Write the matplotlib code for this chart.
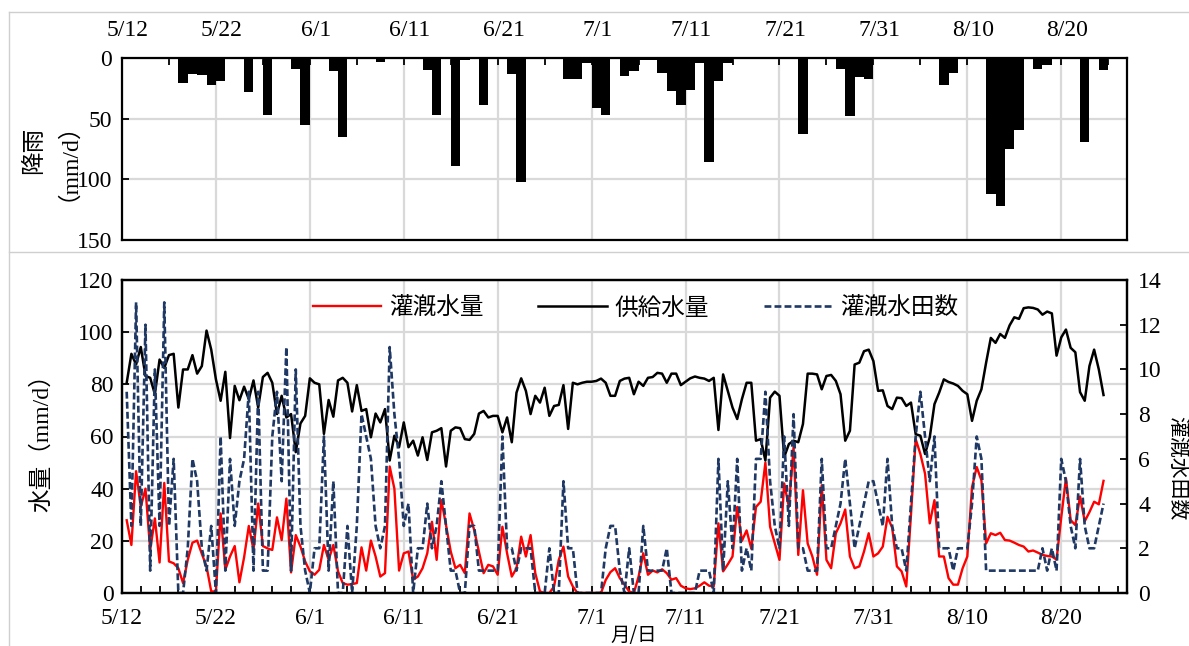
import datetime
import numpy as np
import matplotlib.pyplot as plt
import matplotlib.transforms as mtransforms
from matplotlib.lines import Line2D

# daily rainfall (mm/d) from 5/12
rain = [0, 0, 0, 0, 0, 0, 21, 13, 14, 22, 19, 0, 0, 28, 0, 47, 0, 0, 9, 55,
        0, 0, 11, 65, 0, 0, 0, 3, 0, 0, 0, 0, 10, 47, 0, 89, 2, 0, 39, 0,
        0, 13, 102, 0, 0, 0, 0, 17, 17, 4, 41, 47, 0, 15, 11, 2, 2, 12, 27, 39,
        26, 4, 86, 19, 4, 0, 0, 0, 0, 0, 0, 0, 63, 0, 0, 0, 9, 48, 16, 17,
        0, 0, 0, 0, 0, 0, 0, 22, 12, 0, 0, 0, 112, 122, 75, 59, 0, 9, 6, 0,
        0, 0, 69, 0, 10]

# half-day series
supply = [80.6, 91.7, 87.6, 94.3, 83.2, 82.5, 76.2, 89.5, 86.3, 91.2, 91.7, 71.1, 85.7, 85.7, 91.2,
          84.1, 87, 100.6, 93.3, 81.9, 73.7, 84.8, 59.4, 79.4, 73.9, 79.1, 74.3, 81.5, 71.1, 82.8,
          84.4, 80.6, 68.6, 75.6, 67.3, 68.6, 54, 65, 67.9, 82.3, 80.6, 80, 61, 74, 67.6,
          81.5, 82.5, 80.6, 69.6, 79.7, 69.8,
          70.5, 59.7, 68.8, 65.4, 70.5, 50.8, 60.3, 55.9, 65.4, 55.9, 58.4, 52.7, 59.7, 51, 61.6,
          62.2, 63.2, 48.5, 62.2, 63.5, 63.2, 59, 58.7, 61, 68.8, 69.8, 67.3, 67.9, 67.9, 61.6,
          67.3, 57.8, 76.8, 82.3, 77.5, 68.6, 75.6, 73, 78.7, 67.9, 71.7, 72.1, 79.7, 62.9, 80.6,
          80, 80.6, 81, 81, 81.3, 82.2, 80.6, 75.6,
          75.6, 81.3, 82.2, 82.5, 76.2, 81, 79.4, 82.5, 82.8, 84.4, 84.1, 80.6, 84.1, 84.1, 79.7,
          81, 82.3, 83, 82.5, 82.2, 81.3, 82.5, 62.5, 83.8, 77.5, 71.1, 66.7, 74.3, 80.6, 80.6,
          58.4, 59, 50.8, 74.9, 77.2, 75.6, 52.1, 57.1, 58.4, 57.8, 64.8, 84.1, 84.1, 83.8, 78.1,
          83.2, 83.6, 81.3, 76.2, 58.4, 62.2, 87.6, 88.3, 92.7,
          93.3, 88.9, 77.5, 77.7, 71.7, 70.5, 74.9, 74.7, 71.7, 73, 60.9, 60.3, 53.3, 59.7, 72.4,
          76.8, 81.9, 80.9, 80.3, 79.4, 77.5, 76.2, 66, 73.7, 78.1, 88.3, 97.8, 95.9, 99.3, 97.8,
          102.6, 105.7, 105.1, 109.2, 109.5, 109.3, 108.7, 106.7, 107.9, 107.2, 91, 98, 101, 94, 92.3,
          77, 73.7, 87, 93.3, 85.7, 75.9]

irrigation = [27.9, 18.4, 46.7, 33, 40, 16.5, 28.6, 11.7, 42.2, 12.1, 11.4, 9.5, 3.8, 12.7, 19.3,
              20.1, 15, 10.2, 0.6, 0.6, 30.5, 8.9, 14, 18, 4.1, 13.7, 25.7, 16.5, 34.3, 18,
              17.1, 16.5, 29, 20.3, 36.2, 7.9, 22.2, 17.8, 12.1, 8.3, 7, 8.9, 18.4, 12.7, 18.4,
              8.3, 3.8, 3.2, 3.4, 3.8, 17.5,
              8.6, 20.1, 14, 6.3, 7.6, 48.5, 40, 8.6, 15.2, 15.9, 5.1, 6.3, 9.5, 15.2, 27.3,
              12.7, 35.6, 26, 15.9, 9.5, 10.8, 7.6, 30.5, 24.1, 15.9, 7.6, 10.8, 10.2, 7, 25.4,
              15.2, 6.3, 9.5, 21.6, 14, 22.2, 7.6, 0.6, 0, 0, 2.5, 12.7, 17.8, 6.3, 2.5,
              0, 0, 0, 0, 0, 0, 5, 8,
              9.5, 5.7, 3.2, 0.6, 0, 6.3, 15.2, 7, 8.6, 7.9, 9.1, 7.6, 5.1, 5.7, 2.8,
              1.8, 1.5, 1.8, 2.8, 4.1, 2.8, 2.5,
              26.7, 8.3, 11, 14, 33, 20, 24, 17, 33, 35, 50, 25.4, 19, 12.7, 42,
              33, 55.9, 14.6, 39.4, 19, 14, 7, 41.3, 12.7, 9.5, 22.9, 26.7, 32, 14, 9.5,
              10.2, 15.9, 22.9,
              14, 15.2, 17.8, 29.2, 25, 10.2, 8.3, 2.5, 30, 59, 53.3, 45.7, 26.7, 35.6, 14,
              14, 5.7, 3.2, 3.2, 9.5, 14, 40.6, 48.3, 43.2, 19, 22.9, 22.2, 23.1, 20.3, 20.1,
              19.3, 18.4, 17.8, 15.9, 16.3, 15.5, 14.6, 14.2, 14, 12.8, 29, 44, 28, 26, 37,
              27.5, 31, 35, 34, 43]

fields = [9, 3, 13, 3, 12, 1, 10, 3, 13, 3, 6, 0, 0, 2, 6, 5, 2, 1, 3, 0,
          7, 1, 6, 3, 5, 6, 9, 1, 9, 1, 1, 7, 9, 5, 11, 1, 10, 3, 1, 0,
          2, 2, 7, 1, 5, 0, 0, 3, 0, 3, 8,
          7, 6, 3, 2, 3, 11, 8, 6, 3, 4, 0, 2, 2, 4, 2, 3, 5, 3, 1, 1,
          0, 0, 3, 3, 1, 1, 1, 1, 1, 7, 2, 2, 1, 2, 2, 2, 0, 0, 0, 2,
          0, 0, 5, 2, 2, 0, 0, 0, 0, 0, 0, 2, 3,
          3, 1, 0, 2, 0, 0, 3, 1, 1, 1, 1, 2, 0, 0, 0, 0, 0, 0, 1, 1,
          1, 0, 6, 1, 5, 2, 6, 1, 2, 1, 6, 6, 9, 5, 3, 2, 7, 3, 8, 2,
          2, 1, 1, 1, 6, 2, 2, 3, 4, 6, 4, 2, 3, 4, 5, 5, 4, 3, 6, 3,
          2, 2, 1, 4, 7, 9, 7, 5, 7, 2, 2, 2, 1, 2, 2, 2, 4, 7, 6, 1,
          1, 1, 1, 1, 1, 1, 1, 1, 1, 1, 1, 2, 1, 2, 1, 6, 5, 3, 2, 6,
          3, 2, 2, 3, 4]

start = datetime.date(2000, 5, 12)
n_days = 107

plt.rcParams['font.family'] = ['Liberation Serif', 'Noto Sans CJK JP']
plt.rcParams['font.size'] = 17
cjk = 'Noto Sans CJK JP'
grid_c = '#d9d9d9'

W, H = 1189, 646
fig = plt.figure(figsize=(W / 100, H / 100), dpi=100)

# frame lines of the two chart boxes
fig.add_artist(Line2D([9 / W, 1], [1 - 12 / H, 1 - 12 / H], color='#cfcfcf', lw=1))
fig.add_artist(Line2D([9 / W, 1], [1 - 252 / H, 1 - 252 / H], color='#cfcfcf', lw=1))
fig.add_artist(Line2D([9 / W, 9 / W], [1 - 12 / H, 0], color='#cfcfcf', lw=1))

ax1 = fig.add_axes([122 / W, 1 - 240 / H, 1005 / W, 182 / H])
ax2 = fig.add_axes([122 / W, 1 - 593 / H, 1005 / W, 313 / H])
ax3 = ax2.twinx()

major = np.arange(0, 101, 10)
labels = [f'{d.month}/{d.day}' for d in (start + datetime.timedelta(days=int(i)) for i in major)]

# --- rainfall (top)
xd = np.arange(len(rain)) + 0.5
ax1.bar(xd, rain, width=1.0, color='black', zorder=3)
ax1.set_xlim(0, n_days)
ax1.set_ylim(150, 0)
ax1.set_yticks([0, 50, 100, 150])
ax1.set_xticks(major)
ax1.set_xticklabels(labels)
ax1.set_xticks(np.arange(0, n_days, 5), minor=True)
ax1.xaxis.set_ticks_position('top')
ax1.tick_params(axis='x', which='both', direction='in', length=5, width=1.3,
                top=True, bottom=False, labeltop=True, labelbottom=False, pad=12)
ax1.tick_params(axis='y', direction='in', length=5, width=1.3, pad=7)
shift = mtransforms.ScaledTranslation(6 / 100, 0, fig.dpi_scale_trans)
for lab in ax1.get_xticklabels():
    lab.set_transform(lab.get_transform() + shift)
ax1.grid(True, which='major', color=grid_c, lw=1.6)
ax1.set_axisbelow(True)
for s in ax1.spines.values():
    s.set_linewidth(1.6)

# --- water amounts (bottom)
xh = 0.5 + 0.5 * np.arange(len(supply))
l1, = ax2.plot(xh, irrigation, color='#ff0000', lw=1.7, zorder=3)
l2, = ax2.plot(xh, supply, color='black', lw=1.8, zorder=3)
l3, = ax3.plot(xh, fields, color='#1f3864', lw=1.9, dashes=(2.6, 1.2))
ax2.set_xlim(0, n_days)
ax2.set_ylim(0, 120)
ax2.set_yticks(np.arange(0, 121, 20))
ax2.set_xticks(major)
ax2.set_xticklabels(labels)
ax2.set_xticks(np.arange(0, n_days, 2), minor=True)
ax2.tick_params(axis='x', which='both', direction='in', length=5, width=1.3, pad=11)
ax2.tick_params(axis='y', direction='in', length=5, width=1.3, pad=6)
ax2.grid(True, which='major', color=grid_c, lw=1.6)
ax2.set_axisbelow(True)
ax3.set_ylim(0, 14)
ax3.set_yticks(np.arange(0, 15, 2))
ax3.tick_params(axis='y', direction='in', length=5, width=1.3, pad=8)
for ax in (ax2, ax3):
    for s in ax.spines.values():
        s.set_linewidth(1.6)

ax2.legend([l1, l2, l3], ['灌漑水量', '供給水量', '灌漑水田数'], loc='center',
           bbox_to_anchor=(0.511, 0.91), ncol=3, frameon=False,
           prop={'family': cjk, 'size': 17}, handlelength=2.9,
           handletextpad=0.35, columnspacing=2.3)

fig.text(45 / W, 1 - 150 / H, '降雨\n（mm/d）', rotation=90, ha='center', va='center',
         fontsize=17, linespacing=1.0, multialignment='center')
fig.text(42 / W, 1 - 437 / H, '水量（mm/d）', rotation=90, ha='center', va='center', fontsize=17)
fig.text(1166 / W, 1 - 468 / H, '灌漑水田数', rotation=270, ha='left', va='center',
         fontsize=15, family=cjk)
fig.text(634 / W, 1 - 625 / H, '月/日', ha='center', va='top', fontsize=14, family=cjk)

fig.savefig('out.png', dpi=100)
